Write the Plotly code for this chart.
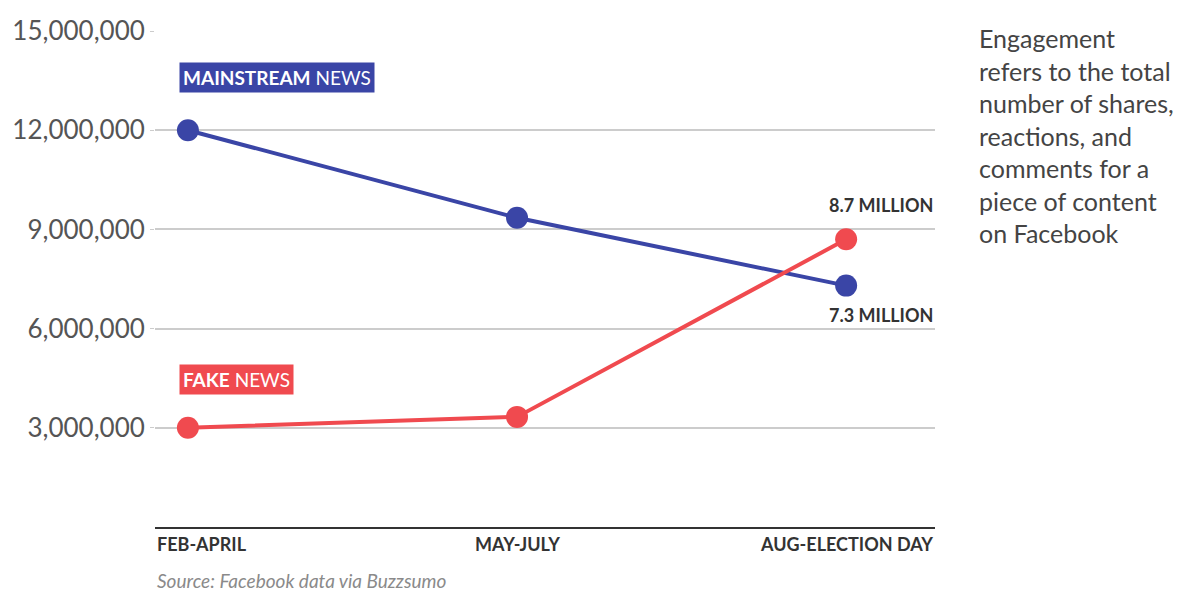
import plotly.graph_objects as go

# Engagement on Facebook for top election stories
periods = ["FEB-APRIL", "MAY-JULY", "AUG-ELECTION DAY"]
mainstream = [12_000_000, 9_350_000, 7_300_000]
fake = [3_000_000, 3_330_000, 8_700_000]
y_ticks = [3_000_000, 6_000_000, 9_000_000, 12_000_000, 15_000_000]
y_tick_labels = ["3,000,000", "6,000,000", "9,000,000", "12,000,000", "15,000,000"]

BLUE = "#3a45a6"
RED = "#f04a4f"
FONT = "Lato"

xpos = list(range(len(periods)))

fig = go.Figure()
fig.add_trace(go.Scatter(
    x=xpos, y=mainstream, mode="lines+markers",
    line=dict(color=BLUE, width=4),
    marker=dict(color=BLUE, size=22),
    hoverinfo="skip", showlegend=False,
))
fig.add_trace(go.Scatter(
    x=xpos, y=fake, mode="lines+markers",
    line=dict(color=RED, width=4),
    marker=dict(color=RED, size=22),
    hoverinfo="skip", showlegend=False,
))

annotations = []
# Series name boxes
annotations.append(dict(
    x=0, y=13_580_000, xref="x", yref="y", xanchor="left", yanchor="middle",
    xshift=-9, text="<b>MAINSTREAM</b> NEWS", showarrow=False,
    font=dict(family=FONT, size=19, color="white"),
    bgcolor=BLUE, borderpad=3,
))
annotations.append(dict(
    x=0, y=4_450_000, xref="x", yref="y", xanchor="left", yanchor="middle",
    xshift=-9, text="<b>FAKE</b> NEWS", showarrow=False,
    font=dict(family=FONT, size=19, color="white"),
    bgcolor=RED, borderpad=3,
))
# End-point value labels
annotations.append(dict(
    x=1, y=fake[2], xref="paper", yref="y", xanchor="right", yanchor="bottom",
    yshift=21, text=f"<b>{fake[2] / 1e6:.1f} MILLION</b>", showarrow=False,
    font=dict(family=FONT, size=18, color="#333333"),
))
annotations.append(dict(
    x=1, y=mainstream[2], xref="paper", yref="y", xanchor="right", yanchor="top",
    yshift=-16, text=f"<b>{mainstream[2] / 1e6:.1f} MILLION</b>", showarrow=False,
    font=dict(family=FONT, size=18, color="#333333"),
))
# Period labels under the axis
anchors = ["left", "center", "right"]
for i, (p, a) in enumerate(zip(periods, anchors)):
    annotations.append(dict(
        x=0 if a == "left" else (1 if a == "right" else i),
        xref="paper" if a != "center" else "x",
        y=0, yref="paper", xanchor=a, yanchor="top", yshift=-4,
        text=f"<b>{p}</b>", showarrow=False,
        font=dict(family=FONT, size=18, color="#333333"),
    ))
# Source line
annotations.append(dict(
    x=0, y=0, xref="paper", yref="paper", xanchor="left", yanchor="top",
    yshift=-40, text="<i>Source: Facebook data via Buzzsumo</i>", showarrow=False,
    font=dict(family=FONT, size=19, color="#8a8a8a"),
))
# Side note
annotations.append(dict(
    x=1, y=1, xref="paper", yref="paper", xanchor="left", yanchor="top",
    xshift=42, yshift=10, align="left", showarrow=False,
    text=("Engagement<br>refers to the total<br>number of shares,<br>reactions, and"
          "<br>comments for a<br>piece of content<br>on Facebook"),
    font=dict(family=FONT, size=25, color="#444444"),
))

fig.update_layout(
    width=1179, height=608,
    margin=dict(l=153, r=244, t=31, b=81),
    paper_bgcolor="white", plot_bgcolor="white",
    annotations=annotations,
    xaxis=dict(
        range=[-0.1, 2.27], showgrid=False, zeroline=False,
        showticklabels=False, ticks="",
        showline=True, linecolor="#333333", linewidth=2,
    ),
    yaxis=dict(
        range=[0, 15_000_000], tickvals=y_ticks, ticktext=y_tick_labels,
        showgrid=True, gridcolor="#cccccc", gridwidth=1.5,
        zeroline=False, ticks="outside", ticklen=4, tickcolor="#cccccc",
        tickfont=dict(family=FONT, size=26, color="#555555"),
    ),
)

fig.write_html("out.html")
